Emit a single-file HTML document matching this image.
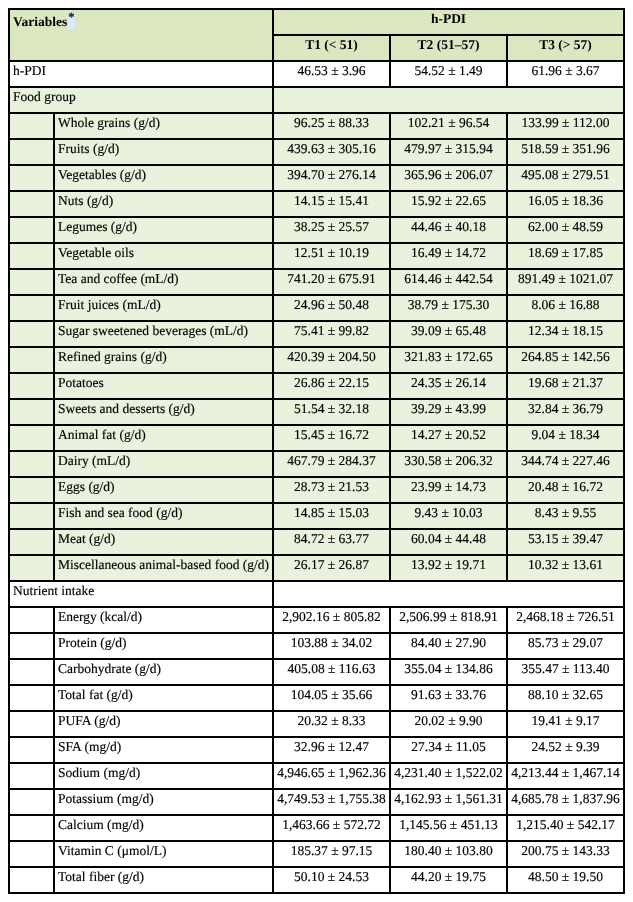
<!DOCTYPE html>
<html><head><meta charset="utf-8"><style>
html,body{margin:0;padding:0;background:#fff;}
body{padding:8px;}
table{will-change:transform;text-rendering:geometricPrecision;border-collapse:separate;border-spacing:0;table-layout:fixed;width:617px;border-top:2px solid #000;border-left:2px solid #000;font-family:"Liberation Serif",serif;font-size:13.5px;color:#000;}
td{border-right:2px solid #000;border-bottom:2px solid #000;padding:0 3px;vertical-align:top;line-height:15px;padding-top:1px;box-sizing:border-box;white-space:nowrap;overflow:hidden;}
tr td{height:26px;}
td.c{text-align:center;}
td.l{text-align:left;}
tr.hd td{background:#dae7c1;}
tr.g td{background:#e9f2dc;}
tr.w td{background:#fff;}
td.var{padding-top:4px;}
.ast{display:inline-block;position:relative;width:7px;height:16px;background:#dde9fa;vertical-align:top;margin-top:-1px;margin-left:1px;}
.ast i{position:absolute;left:0;top:-2px;font-style:normal;font-weight:bold;font-size:12.5px;line-height:12px;color:#222;}
td{-webkit-text-stroke:0.15px #000;} b{-webkit-text-stroke:0;}

</style></head><body>
<table>
<colgroup><col style="width:45px"><col style="width:219px"><col style="width:117px"><col style="width:117px"><col style="width:117px"></colgroup>
<tr class="hd"><td colspan="2" rowspan="2" class="l var"><b>Variables</b><span class="ast"><i>*</i></span></td><td colspan="3" class="c"><b>h-PDI</b></td></tr>
<tr class="hd"><td class="c"><b>T1 (&lt; 51)</b></td><td class="c"><b>T2 (51–57)</b></td><td class="c"><b>T3 (&gt; 57)</b></td></tr>
<tr class="w"><td colspan="2" class="l">h-PDI</td><td class="c">46.53 ± 3.96</td><td class="c">54.52 ± 1.49</td><td class="c">61.96 ± 3.67</td></tr>
<tr class="g"><td colspan="2" class="l">Food group</td><td colspan="3"></td></tr>
<tr class="g"><td></td><td class="l">Whole grains (g/d)</td><td class="c">96.25 ± 88.33</td><td class="c">102.21 ± 96.54</td><td class="c">133.99 ± 112.00</td></tr>
<tr class="g"><td></td><td class="l">Fruits (g/d)</td><td class="c">439.63 ± 305.16</td><td class="c">479.97 ± 315.94</td><td class="c">518.59 ± 351.96</td></tr>
<tr class="g"><td></td><td class="l">Vegetables (g/d)</td><td class="c">394.70 ± 276.14</td><td class="c">365.96 ± 206.07</td><td class="c">495.08 ± 279.51</td></tr>
<tr class="g"><td></td><td class="l">Nuts (g/d)</td><td class="c">14.15 ± 15.41</td><td class="c">15.92 ± 22.65</td><td class="c">16.05 ± 18.36</td></tr>
<tr class="g"><td></td><td class="l">Legumes (g/d)</td><td class="c">38.25 ± 25.57</td><td class="c">44.46 ± 40.18</td><td class="c">62.00 ± 48.59</td></tr>
<tr class="g"><td></td><td class="l">Vegetable oils</td><td class="c">12.51 ± 10.19</td><td class="c">16.49 ± 14.72</td><td class="c">18.69 ± 17.85</td></tr>
<tr class="g"><td></td><td class="l">Tea and coffee (mL/d)</td><td class="c">741.20 ± 675.91</td><td class="c">614.46 ± 442.54</td><td class="c">891.49 ± 1021.07</td></tr>
<tr class="g"><td></td><td class="l">Fruit juices (mL/d)</td><td class="c">24.96 ± 50.48</td><td class="c">38.79 ± 175.30</td><td class="c">8.06 ± 16.88</td></tr>
<tr class="g"><td></td><td class="l">Sugar sweetened beverages (mL/d)</td><td class="c">75.41 ± 99.82</td><td class="c">39.09 ± 65.48</td><td class="c">12.34 ± 18.15</td></tr>
<tr class="g"><td></td><td class="l">Refined grains (g/d)</td><td class="c">420.39 ± 204.50</td><td class="c">321.83 ± 172.65</td><td class="c">264.85 ± 142.56</td></tr>
<tr class="g"><td></td><td class="l">Potatoes</td><td class="c">26.86 ± 22.15</td><td class="c">24.35 ± 26.14</td><td class="c">19.68 ± 21.37</td></tr>
<tr class="g"><td></td><td class="l">Sweets and desserts (g/d)</td><td class="c">51.54 ± 32.18</td><td class="c">39.29 ± 43.99</td><td class="c">32.84 ± 36.79</td></tr>
<tr class="g"><td></td><td class="l">Animal fat (g/d)</td><td class="c">15.45 ± 16.72</td><td class="c">14.27 ± 20.52</td><td class="c">9.04 ± 18.34</td></tr>
<tr class="g"><td></td><td class="l">Dairy (mL/d)</td><td class="c">467.79 ± 284.37</td><td class="c">330.58 ± 206.32</td><td class="c">344.74 ± 227.46</td></tr>
<tr class="g"><td></td><td class="l">Eggs (g/d)</td><td class="c">28.73 ± 21.53</td><td class="c">23.99 ± 14.73</td><td class="c">20.48 ± 16.72</td></tr>
<tr class="g"><td></td><td class="l">Fish and sea food (g/d)</td><td class="c">14.85 ± 15.03</td><td class="c">9.43 ± 10.03</td><td class="c">8.43 ± 9.55</td></tr>
<tr class="g"><td></td><td class="l">Meat (g/d)</td><td class="c">84.72 ± 63.77</td><td class="c">60.04 ± 44.48</td><td class="c">53.15 ± 39.47</td></tr>
<tr class="g"><td></td><td class="l">Miscellaneous animal-based food (g/d)</td><td class="c">26.17 ± 26.87</td><td class="c">13.92 ± 19.71</td><td class="c">10.32 ± 13.61</td></tr>
<tr class="w"><td colspan="2" class="l">Nutrient intake</td><td colspan="3"></td></tr>
<tr class="w"><td></td><td class="l">Energy (kcal/d)</td><td class="c">2,902.16 ± 805.82</td><td class="c">2,506.99 ± 818.91</td><td class="c">2,468.18 ± 726.51</td></tr>
<tr class="w"><td></td><td class="l">Protein (g/d)</td><td class="c">103.88 ± 34.02</td><td class="c">84.40 ± 27.90</td><td class="c">85.73 ± 29.07</td></tr>
<tr class="w"><td></td><td class="l">Carbohydrate (g/d)</td><td class="c">405.08 ± 116.63</td><td class="c">355.04 ± 134.86</td><td class="c">355.47 ± 113.40</td></tr>
<tr class="w"><td></td><td class="l">Total fat (g/d)</td><td class="c">104.05 ± 35.66</td><td class="c">91.63 ± 33.76</td><td class="c">88.10 ± 32.65</td></tr>
<tr class="w"><td></td><td class="l">PUFA (g/d)</td><td class="c">20.32 ± 8.33</td><td class="c">20.02 ± 9.90</td><td class="c">19.41 ± 9.17</td></tr>
<tr class="w"><td></td><td class="l">SFA (mg/d)</td><td class="c">32.96 ± 12.47</td><td class="c">27.34 ± 11.05</td><td class="c">24.52 ± 9.39</td></tr>
<tr class="w"><td></td><td class="l">Sodium (mg/d)</td><td class="c">4,946.65 ± 1,962.36</td><td class="c">4,231.40 ± 1,522.02</td><td class="c">4,213.44 ± 1,467.14</td></tr>
<tr class="w"><td></td><td class="l">Potassium (mg/d)</td><td class="c">4,749.53 ± 1,755.38</td><td class="c">4,162.93 ± 1,561.31</td><td class="c">4,685.78 ± 1,837.96</td></tr>
<tr class="w"><td></td><td class="l">Calcium (mg/d)</td><td class="c">1,463.66 ± 572.72</td><td class="c">1,145.56 ± 451.13</td><td class="c">1,215.40 ± 542.17</td></tr>
<tr class="w"><td></td><td class="l">Vitamin C (μmol/L)</td><td class="c">185.37 ± 97.15</td><td class="c">180.40 ± 103.80</td><td class="c">200.75 ± 143.33</td></tr>
<tr class="w"><td></td><td class="l">Total fiber (g/d)</td><td class="c">50.10 ± 24.53</td><td class="c">44.20 ± 19.75</td><td class="c">48.50 ± 19.50</td></tr>
</table>
</body></html>
